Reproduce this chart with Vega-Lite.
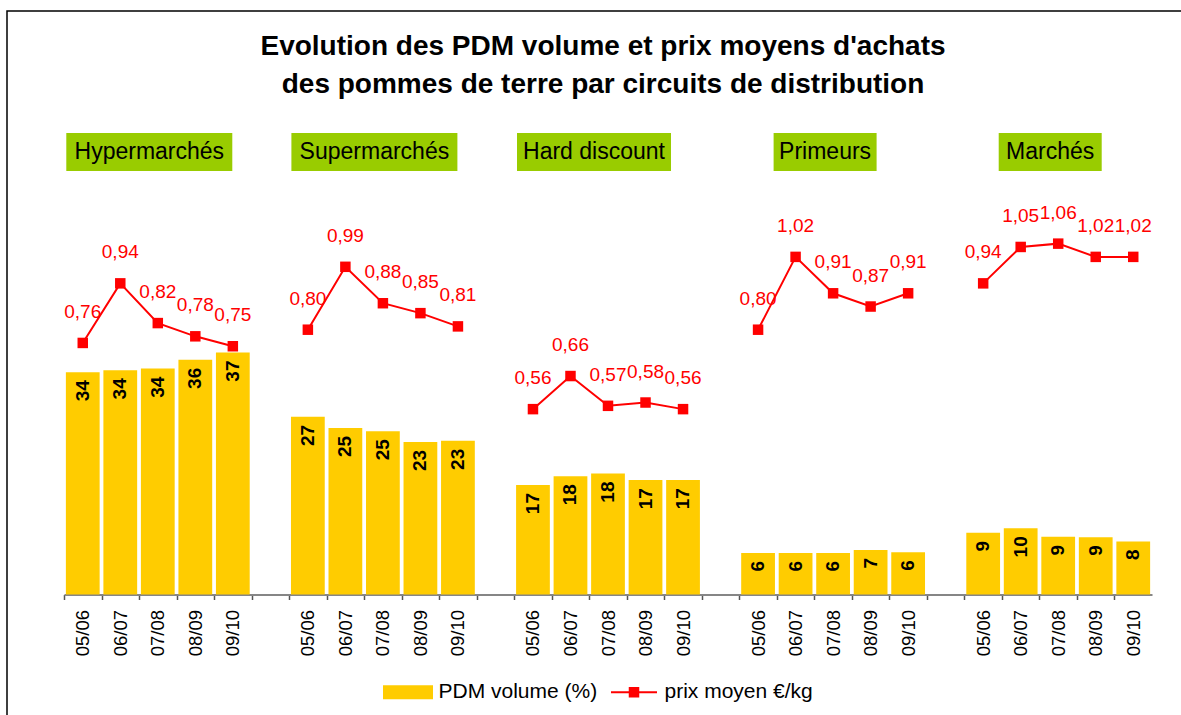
{
  "$schema": "https://vega.github.io/schema/vega-lite/v6.json",
  "width": 1202,
  "height": 724,
  "autosize": {"type": "none"},
  "padding": {"left": 7, "top": 11, "right": -28, "bottom": -20},
  "background": "white",
  "title": {
    "text": ["Evolution des PDM volume et prix moyens d'achats", "des pommes de terre par  circuits de distribution"],
    "anchor": "middle",
    "frame": "group",
    "font": "Liberation Sans",
    "fontSize": 28,
    "fontWeight": "bold",
    "color": "#000000",
    "lineHeight": 38,
    "offset": -88,
    "dx": -5
  },
  "data": {
    "values": [
      {"circuit": "Hypermarchés", "annee": "05/06", "pdm": 33.9, "prix": 0.76},
      {"circuit": "Hypermarchés", "annee": "06/07", "pdm": 34.2, "prix": 0.94},
      {"circuit": "Hypermarchés", "annee": "07/08", "pdm": 34.45, "prix": 0.82},
      {"circuit": "Hypermarchés", "annee": "08/09", "pdm": 35.8, "prix": 0.78},
      {"circuit": "Hypermarchés", "annee": "09/10", "pdm": 36.9, "prix": 0.75},
      {"circuit": "Supermarchés", "annee": "05/06", "pdm": 27.1, "prix": 0.80},
      {"circuit": "Supermarchés", "annee": "06/07", "pdm": 25.4, "prix": 0.99},
      {"circuit": "Supermarchés", "annee": "07/08", "pdm": 24.9, "prix": 0.88},
      {"circuit": "Supermarchés", "annee": "08/09", "pdm": 23.26, "prix": 0.85},
      {"circuit": "Supermarchés", "annee": "09/10", "pdm": 23.45, "prix": 0.81},
      {"circuit": "Hard discount", "annee": "05/06", "pdm": 16.7, "prix": 0.56},
      {"circuit": "Hard discount", "annee": "06/07", "pdm": 18.05, "prix": 0.66},
      {"circuit": "Hard discount", "annee": "07/08", "pdm": 18.45, "prix": 0.57},
      {"circuit": "Hard discount", "annee": "08/09", "pdm": 17.45, "prix": 0.58},
      {"circuit": "Hard discount", "annee": "09/10", "pdm": 17.45, "prix": 0.56},
      {"circuit": "Primeurs", "annee": "05/06", "pdm": 6.33, "prix": 0.80},
      {"circuit": "Primeurs", "annee": "06/07", "pdm": 6.33, "prix": 1.02},
      {"circuit": "Primeurs", "annee": "07/08", "pdm": 6.33, "prix": 0.91},
      {"circuit": "Primeurs", "annee": "08/09", "pdm": 6.8, "prix": 0.87},
      {"circuit": "Primeurs", "annee": "09/10", "pdm": 6.45, "prix": 0.91},
      {"circuit": "Marchés", "annee": "05/06", "pdm": 9.4, "prix": 0.94},
      {"circuit": "Marchés", "annee": "06/07", "pdm": 10.1, "prix": 1.05},
      {"circuit": "Marchés", "annee": "07/08", "pdm": 8.8, "prix": 1.06},
      {"circuit": "Marchés", "annee": "08/09", "pdm": 8.75, "prix": 1.02},
      {"circuit": "Marchés", "annee": "09/10", "pdm": 8.1, "prix": 1.02}
    ]
  },
  "transform": [
    {"calculate": "datum.circuit + '|' + datum.annee", "as": "key"},
    {"calculate": "replace(format(datum.prix, '.2f'), '.', ',')", "as": "prixLabel"}
  ],
  "encoding": {
    "x": {
      "field": "key",
      "type": "nominal",
      "scale": {
        "type": "band",
        "domain": [
          "Hypermarchés|05/06", "Hypermarchés|06/07", "Hypermarchés|07/08", "Hypermarchés|08/09", "Hypermarchés|09/10", "g1",
          "Supermarchés|05/06", "Supermarchés|06/07", "Supermarchés|07/08", "Supermarchés|08/09", "Supermarchés|09/10", "g2",
          "Hard discount|05/06", "Hard discount|06/07", "Hard discount|07/08", "Hard discount|08/09", "Hard discount|09/10", "g3",
          "Primeurs|05/06", "Primeurs|06/07", "Primeurs|07/08", "Primeurs|08/09", "Primeurs|09/10", "g4",
          "Marchés|05/06", "Marchés|06/07", "Marchés|07/08", "Marchés|08/09", "Marchés|09/10"
        ],
        "range": [57, 1145],
        "paddingInner": 0,
        "paddingOuter": 0
      },
      "axis": {
        "title": null,
        "labelExpr": "indexof(datum.value, '|') < 0 ? '' : substring(datum.value, indexof(datum.value, '|') + 1)",
        "labelAngle": 270,
        "labelAlign": "right",
        "labelBaseline": "middle",
        "labelFont": "Liberation Sans",
        "labelFontSize": 18.5,
        "labelColor": "#000000",
        "labelPadding": 10,
        "labelOverlap": false,
        "tickOffset": -18.76,
        "labelOffset": 18.76,
        "tickSize": 5,
        "tickColor": "#555555",
        "tickWidth": 1.5,
        "domainColor": "#868686",
        "domainWidth": 2,
        "grid": false,
        "offset": -140.5
      }
    }
  },
  "layer": [
    {
      "encoding": {
        "y": {
          "field": "pdm",
          "type": "quantitative",
          "stack": null,
          "scale": {"domain": [0, 70], "range": [583.5, 124.5], "nice": false, "zero": true},
          "axis": null
        }
      },
      "layer": [
        {
          "mark": {"type": "bar", "width": {"band": 0.9}, "color": "#FFCC00"},
          "encoding": {
            "color": {
              "datum": "PDM volume (%)",
              "type": "nominal",
              "scale": {"domain": ["PDM volume (%)", "prix moyen €/kg"], "range": ["#FFCC00", "#FF0000"]},
              "legend": {
                "orient": "none",
                "legendX": 390.5,
                "legendY": 670.5,
                "direction": "horizontal",
                "title": null,
                "symbolSize": 2500,
                "labelFont": "Liberation Sans",
                "labelFontSize": 21,
                "labelColor": "#000000",
                "labelOffset": 20,
                "columnPadding": 9,
                "padding": 0,
                "labelLimit": 400,
                "encode": {
                  "symbols": {
                    "update": {
                      "shape": {"signal": "datum.value === 'PDM volume (%)' ? 'M-1,-0.28H1V0.28H-1Z' : 'M-0.92,0H0.92M-0.17,-0.17H0.17V0.17H-0.17Z'"},
                      "fill": {"signal": "datum.value === 'PDM volume (%)' ? '#FFCC00' : '#FF0000'"},
                      "stroke": {"signal": "datum.value === 'PDM volume (%)' ? '#FFCC00' : '#FF0000'"},
                      "strokeWidth": {"signal": "datum.value === 'PDM volume (%)' ? 0 : 2"},
                      "opacity": {"value": 1},
                      "fillOpacity": {"value": 1},
                      "strokeOpacity": {"value": 1}
                    }
                  }
                }
              }
            }
          }
        },
        {
          "mark": {"type": "text", "angle": 270, "align": "right", "baseline": "middle", "dx": -8, "font": "Liberation Sans", "fontSize": 19, "fontWeight": "bold", "color": "#000000"},
          "encoding": {"text": {"field": "pdm", "type": "quantitative", "format": ".0f"}}
        },
        {
          "transform": [{"filter": "datum.annee === '07/08' && (datum.circuit === 'Hypermarchés' || datum.circuit === 'Supermarchés')"}],
          "mark": {"type": "bar", "width": 166, "xOffset": -8.5, "color": "#99CC00"},
          "encoding": {"y": {"datum": 70.38, "type": "quantitative"}, "y2": {"datum": 64.59}}
        },
        {
          "transform": [{"filter": "datum.annee === '07/08' && datum.circuit === 'Hard discount'"}],
          "mark": {"type": "bar", "width": 154, "xOffset": -14, "color": "#99CC00"},
          "encoding": {"y": {"datum": 70.38, "type": "quantitative"}, "y2": {"datum": 64.59}}
        },
        {
          "transform": [{"filter": "datum.annee === '07/08' && (datum.circuit === 'Primeurs' || datum.circuit === 'Marchés')"}],
          "mark": {"type": "bar", "width": 103, "xOffset": -8, "color": "#99CC00"},
          "encoding": {"y": {"datum": 70.38, "type": "quantitative"}, "y2": {"datum": 64.59}}
        },
        {
          "transform": [{"filter": "datum.annee === '07/08' && (datum.circuit === 'Hypermarchés' || datum.circuit === 'Supermarchés')"}],
          "mark": {"type": "text", "align": "center", "baseline": "middle", "dx": -8.5, "font": "Liberation Sans", "fontSize": 23, "color": "#000000"},
          "encoding": {"y": {"datum": 67.48, "type": "quantitative"}, "text": {"field": "circuit", "type": "nominal"}}
        },
        {
          "transform": [{"filter": "datum.annee === '07/08' && datum.circuit === 'Hard discount'"}],
          "mark": {"type": "text", "align": "center", "baseline": "middle", "dx": -14, "font": "Liberation Sans", "fontSize": 23, "color": "#000000"},
          "encoding": {"y": {"datum": 67.48, "type": "quantitative"}, "text": {"field": "circuit", "type": "nominal"}}
        },
        {
          "transform": [{"filter": "datum.annee === '07/08' && (datum.circuit === 'Primeurs' || datum.circuit === 'Marchés')"}],
          "mark": {"type": "text", "align": "center", "baseline": "middle", "dx": -8, "font": "Liberation Sans", "fontSize": 23, "color": "#000000"},
          "encoding": {"y": {"datum": 67.48, "type": "quantitative"}, "text": {"field": "circuit", "type": "nominal"}}
        }
      ]
    },
    {
      "encoding": {
        "y": {
          "field": "prix",
          "type": "quantitative",
          "stack": null,
          "scale": {"domain": [0, 1.4], "range": [583.5, 120.1], "nice": false, "zero": true},
          "axis": null
        }
      },
      "layer": [
        {
          "mark": {"type": "line", "strokeWidth": 2, "color": "#FF0000"},
          "encoding": {
            "detail": {"field": "circuit", "type": "nominal"},
            "color": {"datum": "prix moyen €/kg", "type": "nominal"}
          }
        },
        {
          "mark": {"type": "point", "shape": "square", "filled": true, "size": 110, "color": "#FF0000", "opacity": 1}
        },
        {
          "mark": {"type": "text", "baseline": "middle", "align": "center", "dy": -31, "font": "Liberation Sans", "fontSize": 19, "color": "#FF0000"},
          "encoding": {"text": {"field": "prixLabel", "type": "nominal"}}
        }
      ]
    }
  ],
  "resolve": {"scale": {"y": "independent"}},
  "config": {
    "view": {"stroke": "#000000", "strokeWidth": 1.5, "fill": "white"},
    "font": "Liberation Sans"
  }
}
